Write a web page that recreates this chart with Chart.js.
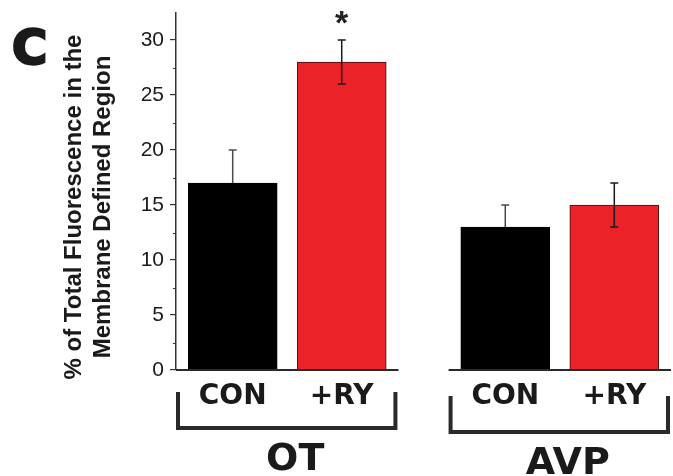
<!DOCTYPE html>
<html>
<head>
<meta charset="utf-8">
<script src="https://cdn.jsdelivr.net/npm/chart.js@4"></script>
<style>
  html, body { margin: 0; padding: 0; background: #fff; }
  #wrap { width: 673px; height: 476px; position: relative; }
</style>
</head>
<body>
<div id="wrap"><canvas id="chart"></canvas></div>
<script>
// groupes et conditions
var groups = ['OT', 'AVP'];
var conditions = ['CON', '+RY'];
// % de fluorescence dans la membrane, [CON, +RY]
var otValues = [17, 28];
var avpValues = [13, 15];
// barres d'erreur
var otErrors = [3, 2];
var avpErrors = [2, 2];
// étoile de significativité
var otSignif = [false, true];
var avpSignif = [false, false];
// graduations de l'axe y
var yTickLabels = [0, 5, 10, 15, 20, 25, 30];

var values = [otValues, avpValues];
var errors = [otErrors, avpErrors];
var signif = [otSignif, avpSignif];
var barColors = ['#000000', '#ec2229'];
var errColors = ['#4a4a4a', '#1a1a1a'];
var errLowColors = ['#000000', '#1a1a1a'];
var groupStep = 2.5;   // espace entre OT et AVP
var groupPad = 0.52;
var heavyFont = '"DejaVu Sans", "Liberation Sans", Arial, sans-serif';

// une barre par (groupe, condition)
var points = [];
groups.forEach(function (g, gi) {
    conditions.forEach(function (c, ci) {
        points.push({ x: gi * groupStep + ci, y: values[gi][ci], err: errors[gi][ci], g: gi, c: ci, star: signif[gi][ci] });
    });
});

// graduations : majeures + mineures au milieu
var yAllTicks = [];
var yMinorTicks = [];
yTickLabels.forEach(function (v, i) {
    yAllTicks.push(v);
    if (i < yTickLabels.length - 1) {
        yAllTicks.push((v + yTickLabels[i + 1]) / 2);
        yMinorTicks.push((v + yTickLabels[i + 1]) / 2);
    }
});

var extras = {
    id: 'extras',
    afterDatasetsDraw: function (chart) {
        var ctx = chart.ctx;
        var xs = chart.scales.x, ys = chart.scales.y;
        var meta = chart.getDatasetMeta(0);
        var y0 = ys.getPixelForValue(0);
        ctx.save();

        // petites graduations (plus courtes)
        ctx.strokeStyle = '#333';
        ctx.lineWidth = 1.2;
        ctx.beginPath();
        yMinorTicks.forEach(function (v) {
            var py = Math.round(ys.getPixelForValue(v)) + 0.5;
            ctx.moveTo(chart.chartArea.left - 3, py);
            ctx.lineTo(chart.chartArea.left, py);
        });
        ctx.stroke();

        // barres d'erreur
        points.forEach(function (p, i) {
            var bx = meta.data[i].x;
            var top = ys.getPixelForValue(p.y + p.err);
            var bar = ys.getPixelForValue(p.y);
            var bot = ys.getPixelForValue(p.y - p.err);
            ctx.lineWidth = 1.5;
            ctx.strokeStyle = errColors[p.c];
            ctx.beginPath();
            ctx.moveTo(bx, top); ctx.lineTo(bx, bar);
            ctx.moveTo(bx - 4, top); ctx.lineTo(bx + 4, top);
            ctx.stroke();
            ctx.strokeStyle = errLowColors[p.c];
            ctx.beginPath();
            ctx.moveTo(bx, bar); ctx.lineTo(bx, bot);
            ctx.moveTo(bx - 4, bot); ctx.lineTo(bx + 4, bot);
            ctx.stroke();
            if (p.star) {
                ctx.fillStyle = '#222';
                ctx.font = 'bold 34px "Liberation Sans", Arial, sans-serif';
                ctx.textAlign = 'center';
                ctx.textBaseline = 'alphabetic';
                ctx.fillText('*', bx, top - 6);
            }
        });

        // lignes de base, crochets et étiquettes
        groups.forEach(function (g, gi) {
            var left = xs.getPixelForValue(gi * groupStep - groupPad);
            var right = xs.getPixelForValue(gi * groupStep + conditions.length - 1 + groupPad);
            var shift = gi * 4;
            ctx.strokeStyle = '#2a2a2a';
            ctx.lineWidth = 2;
            ctx.beginPath();
            ctx.moveTo(left, y0); ctx.lineTo(right, y0);
            ctx.stroke();

            ctx.lineWidth = 4;
            ctx.beginPath();
            ctx.moveTo(left + 2, y0 + 22 + shift);
            ctx.lineTo(left + 2, y0 + 58 + shift);
            ctx.lineTo(right - 3, y0 + 58 + shift);
            ctx.lineTo(right - 3, y0 + 22 + shift);
            ctx.stroke();

            ctx.fillStyle = '#1a1a1a';
            ctx.textAlign = 'center';
            ctx.textBaseline = 'middle';
            ctx.font = 'bold 28px ' + heavyFont;
            conditions.forEach(function (c, ci) {
                var cx = xs.getPixelForValue(gi * groupStep + ci);
                ctx.fillText(c, cx, y0 + 27);
            });

            ctx.font = 'bold 38px ' + heavyFont;
            ctx.textBaseline = 'alphabetic';
            ctx.fillText(g, (left + right) / 2 + 8, y0 + 100 + shift);
        });

        // titre de l'axe y
        ctx.fillStyle = '#1a1a1a';
        ctx.font = 'bold 24px "Liberation Sans", Arial, sans-serif';
        ctx.textAlign = 'center';
        ctx.textBaseline = 'middle';
        ctx.save();
        ctx.translate(74, 207);
        ctx.rotate(-Math.PI / 2);
        ctx.fillText('% of Total Fluorescence in the', 0, 0);
        ctx.fillText('Membrane Defined Region', 0, 29);
        ctx.restore();

        // lettre du panneau
        ctx.font = 'bold 48px ' + heavyFont;
        ctx.textAlign = 'left';
        ctx.textBaseline = 'alphabetic';
        ctx.lineWidth = 2.5;
        ctx.strokeStyle = '#1a1a1a';
        ctx.fillText('C', 12, 64);
        ctx.strokeText('C', 12, 64);

        ctx.restore();
    }
};

var ctx = document.getElementById('chart').getContext('2d');
var chart = new Chart(ctx, {
    type: 'bar',
    data: {
        datasets: [{
            data: points,
            backgroundColor: points.map(function (p) { return barColors[p.c]; }),
            borderColor: points.map(function (p) { return p.c === 0 ? '#000' : '#3a1212'; }),
            borderWidth: 1,
            barThickness: 89
        }]
    },
    options: {
        responsive: true,
        maintainAspectRatio: false,
        animation: false,
        layout: { padding: { left: 0, right: 2, top: 12.5, bottom: 106 } },
        plugins: {
            legend: { display: false },
            tooltip: { enabled: false }
        },
        scales: {
            x: {
                type: 'linear',
                display: false,
                offset: false,
                min: -groupPad,
                max: (groups.length - 1) * groupStep + conditions.length - 1 + groupPad
            },
            y: {
                min: 0,
                max: 32.5,
                afterBuildTicks: function (scale) {
                    scale.ticks = yAllTicks.map(function (v) { return { value: v }; });
                },
                afterFit: function (scale) {
                    scale.width = 176;
                    scale.paddingTop = 0;
                    scale.paddingBottom = 0;
                },
                border: { display: true, color: '#333', width: 1.5 },
                grid: {
                    drawOnChartArea: false,
                    drawTicks: true,
                    tickLength: 6,
                    lineWidth: 1.2,
                    tickColor: function (c) {
                        return yTickLabels.indexOf(c.tick.value) >= 0 ? '#333' : 'rgba(0,0,0,0)';
                    }
                },
                ticks: {
                    padding: 6,
                    color: '#1a1a1a',
                    font: { family: '"Liberation Sans", Arial, sans-serif', size: 21 },
                    callback: function (v) { return yTickLabels.indexOf(v) >= 0 ? String(v) : ''; }
                }
            }
        }
    },
    plugins: [extras]
});
</script>
</body>
</html>
